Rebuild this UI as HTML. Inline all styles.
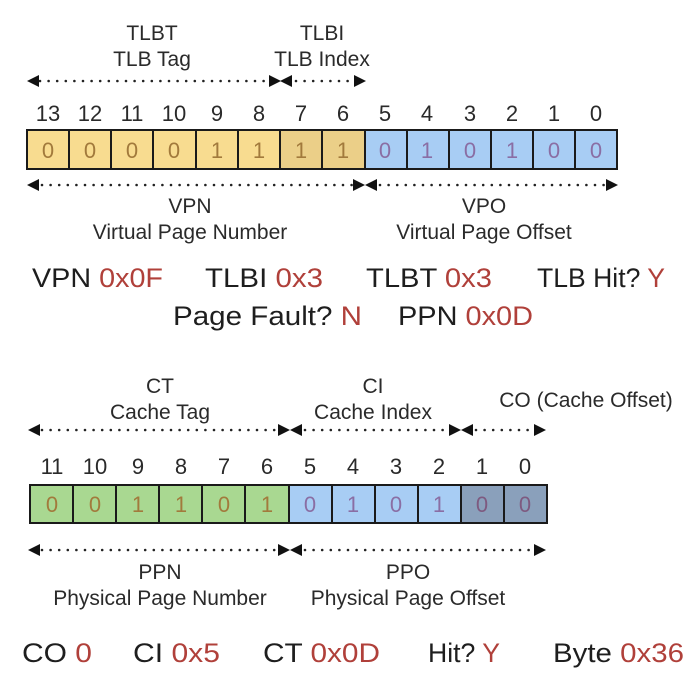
<!DOCTYPE html>
<html><head><meta charset="utf-8"><style>
html,body{margin:0;padding:0;background:#fff;}
svg{display:block;font-family:"Liberation Sans",sans-serif;}
.t{fill:#2a2a2a;font-size:21px;}
.n{fill:#2a2a2a;font-size:22px;}
.b{font-size:22px;}
.s{fill:#1e1e1e;font-size:27px;}
.r{fill:#b0403a;}
.d{stroke:#222;stroke-width:2.6;stroke-dasharray:0 8.6;stroke-linecap:round;fill:none;}
</style></head><body>
<svg width="700" height="674" viewBox="0 0 700 674" xmlns="http://www.w3.org/2000/svg">
<text class="t" x="152" y="40" text-anchor="middle">TLBT</text>
<text class="t" x="152" y="66" text-anchor="middle">TLB Tag</text>
<text class="t" x="322" y="40" text-anchor="middle">TLBI</text>
<text class="t" x="322" y="66" text-anchor="middle">TLB Index</text>
<line class="d" x1="40" y1="81" x2="270" y2="81"/>
<polygon points="27,81 39,75 39,87" fill="#111"/>
<polygon points="281,81 269,75 269,87" fill="#111"/>
<line class="d" x1="296" y1="81" x2="355" y2="81"/>
<polygon points="280,81 292,75 292,87" fill="#111"/>
<polygon points="366,81 354,75 354,87" fill="#111"/>
<g class="n" text-anchor="middle">
<text x="48" y="121">13</text><text x="90" y="121">12</text><text x="132" y="121">11</text><text x="174" y="121">10</text><text x="217" y="121">9</text><text x="259" y="121">8</text><text x="301" y="121">7</text><text x="343" y="121">6</text><text x="385" y="121">5</text><text x="427" y="121">4</text><text x="470" y="121">3</text><text x="512" y="121">2</text><text x="554" y="121">1</text><text x="596" y="121">0</text>
</g>
<g stroke="#1a1a1a" stroke-width="2">
<rect x="27" y="130" width="253" height="39" fill="#f8dc90"/>
<rect x="280" y="130" width="85" height="39" fill="#ebcf88"/>
<rect x="365" y="130" width="252" height="39" fill="#a8cdf4"/>
<line x1="69" y1="130" x2="69" y2="169"/><line x1="111" y1="130" x2="111" y2="169"/><line x1="153" y1="130" x2="153" y2="169"/><line x1="196" y1="130" x2="196" y2="169"/><line x1="238" y1="130" x2="238" y2="169"/><line x1="322" y1="130" x2="322" y2="169"/><line x1="407" y1="130" x2="407" y2="169"/><line x1="449" y1="130" x2="449" y2="169"/><line x1="491" y1="130" x2="491" y2="169"/><line x1="533" y1="130" x2="533" y2="169"/><line x1="575" y1="130" x2="575" y2="169"/>
</g>
<g class="b" text-anchor="middle" fill="#a27a3c">
<text x="48" y="158">0</text><text x="90" y="158">0</text><text x="132" y="158">0</text><text x="174" y="158">0</text><text x="217" y="158">1</text><text x="259" y="158">1</text><text x="301" y="158">1</text><text x="343" y="158">1</text>
</g>
<g class="b" text-anchor="middle" fill="#8a6ea4">
<text x="385" y="158">0</text><text x="427" y="158">1</text><text x="470" y="158">0</text><text x="512" y="158">1</text><text x="554" y="158">0</text><text x="596" y="158">0</text>
</g>
<line class="d" x1="42" y1="185" x2="352" y2="185"/>
<polygon points="27,185 39,179 39,191" fill="#111"/>
<polygon points="365,185 353,179 353,191" fill="#111"/>
<line class="d" x1="380" y1="185" x2="604" y2="185"/>
<polygon points="365,185 377,179 377,191" fill="#111"/>
<polygon points="618,185 606,179 606,191" fill="#111"/>
<text class="t" x="190" y="213" text-anchor="middle">VPN</text>
<text class="t" x="190" y="239" text-anchor="middle">Virtual Page Number</text>
<text class="t" x="484" y="213" text-anchor="middle">VPO</text>
<text class="t" x="484" y="239" text-anchor="middle">Virtual Page Offset</text>
<text class="s" x="32" y="287" textLength="131" lengthAdjust="spacingAndGlyphs">VPN <tspan class="r">0x0F</tspan></text>
<text class="s" x="205" y="287" textLength="118" lengthAdjust="spacingAndGlyphs">TLBI <tspan class="r">0x3</tspan></text>
<text class="s" x="366" y="287" textLength="126" lengthAdjust="spacingAndGlyphs">TLBT <tspan class="r">0x3</tspan></text>
<text class="s" x="537" y="287" textLength="128" lengthAdjust="spacingAndGlyphs">TLB Hit? <tspan class="r">Y</tspan></text>
<text class="s" x="173" y="325" textLength="189" lengthAdjust="spacingAndGlyphs">Page Fault? <tspan class="r">N</tspan></text>
<text class="s" x="398" y="325" textLength="135" lengthAdjust="spacingAndGlyphs">PPN <tspan class="r">0x0D</tspan></text>
<text class="t" x="160" y="393" text-anchor="middle">CT</text>
<text class="t" x="160" y="419" text-anchor="middle">Cache Tag</text>
<text class="t" x="373" y="393" text-anchor="middle">CI</text>
<text class="t" x="373" y="419" text-anchor="middle">Cache Index</text>
<text class="t" x="586" y="407" text-anchor="middle">CO (Cache Offset)</text>
<line class="d" x1="42" y1="430" x2="276" y2="430"/>
<polygon points="28,430 40,424 40,436" fill="#111"/>
<polygon points="290,430 278,424 278,436" fill="#111"/>
<line class="d" x1="305" y1="430" x2="446" y2="430"/>
<polygon points="290,430 302,424 302,436" fill="#111"/>
<polygon points="461,430 449,424 449,436" fill="#111"/>
<line class="d" x1="476" y1="430" x2="533" y2="430"/>
<polygon points="461,430 473,424 473,436" fill="#111"/>
<polygon points="546,430 534,424 534,436" fill="#111"/>
<g class="n" text-anchor="middle">
<text x="52" y="474">11</text><text x="95" y="474">10</text><text x="138" y="474">9</text><text x="181" y="474">8</text><text x="224" y="474">7</text><text x="267" y="474">6</text><text x="310" y="474">5</text><text x="353" y="474">4</text><text x="396" y="474">3</text><text x="439" y="474">2</text><text x="482" y="474">1</text><text x="525" y="474">0</text>
</g>
<g stroke="#1a1a1a" stroke-width="2">
<rect x="30" y="485" width="259" height="38" fill="#a9d891"/>
<rect x="289" y="485" width="172" height="38" fill="#a8cdf4"/>
<rect x="461" y="485" width="86" height="38" fill="#8aa0bb"/>
<line x1="73" y1="485" x2="73" y2="523"/><line x1="116" y1="485" x2="116" y2="523"/><line x1="159" y1="485" x2="159" y2="523"/><line x1="202" y1="485" x2="202" y2="523"/><line x1="245" y1="485" x2="245" y2="523"/><line x1="332" y1="485" x2="332" y2="523"/><line x1="375" y1="485" x2="375" y2="523"/><line x1="418" y1="485" x2="418" y2="523"/><line x1="504" y1="485" x2="504" y2="523"/>
</g>
<g class="b" text-anchor="middle" fill="#a27a3c">
<text x="52" y="512">0</text><text x="95" y="512">0</text><text x="138" y="512">1</text><text x="181" y="512">1</text><text x="224" y="512">0</text><text x="267" y="512">1</text>
</g>
<g class="b" text-anchor="middle" fill="#8a6ea4">
<text x="310" y="512">0</text><text x="353" y="512">1</text><text x="396" y="512">0</text><text x="439" y="512">1</text><text x="482" y="512" fill="#7e5a80">0</text><text x="525" y="512" fill="#7e5a80">0</text>
</g>
<line class="d" x1="42" y1="550" x2="276" y2="550"/>
<polygon points="28,550 40,544 40,556" fill="#111"/>
<polygon points="290,550 278,544 278,556" fill="#111"/>
<line class="d" x1="305" y1="550" x2="533" y2="550"/>
<polygon points="290,550 302,544 302,556" fill="#111"/>
<polygon points="546,550 534,544 534,556" fill="#111"/>
<text class="t" x="160" y="579" text-anchor="middle">PPN</text>
<text class="t" x="160" y="605" text-anchor="middle">Physical Page Number</text>
<text class="t" x="408" y="579" text-anchor="middle">PPO</text>
<text class="t" x="408" y="605" text-anchor="middle">Physical Page Offset</text>
<text class="s" x="22" y="662" textLength="70" lengthAdjust="spacingAndGlyphs">CO <tspan class="r">0</tspan></text>
<text class="s" x="133" y="662" textLength="87" lengthAdjust="spacingAndGlyphs">CI <tspan class="r">0x5</tspan></text>
<text class="s" x="263" y="662" textLength="117" lengthAdjust="spacingAndGlyphs">CT <tspan class="r">0x0D</tspan></text>
<text class="s" x="428" y="662" textLength="72" lengthAdjust="spacingAndGlyphs">Hit? <tspan class="r">Y</tspan></text>
<text class="s" x="553" y="662" textLength="131" lengthAdjust="spacingAndGlyphs">Byte <tspan class="r">0x36</tspan></text>
</svg>
</body></html>
